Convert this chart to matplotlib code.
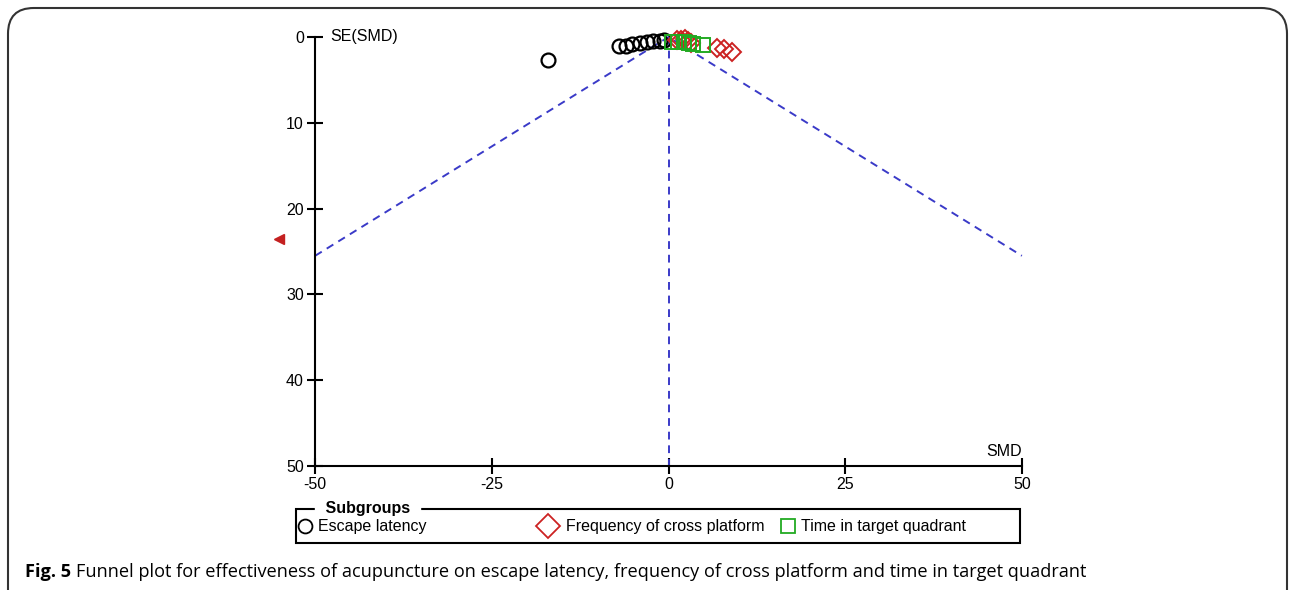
import matplotlib.pyplot as plt
from matplotlib.patches import FancyBboxPatch, Rectangle
from matplotlib.lines import Line2D

plt.rcParams['font.family'] = ['Liberation Sans', 'DejaVu Sans']
plt.rcParams['axes.unicode_minus'] = False

# Escape latency
smd_escape = [-17.0, -7.0, -6.0, -5.1, -4.0, -3.0, -2.2, -1.2, -0.6]
se_escape = [2.7, 1.0, 1.1, 0.8, 0.7, 0.6, 0.5, 0.5, 0.4]
# Frequency of cross platform
smd_cross = [1.2, 1.8, 2.3, 2.8, 3.2, 6.9, 7.9, 9.0]
se_cross = [0.3, 0.4, 0.2, 0.5, 0.7, 1.3, 1.4, 1.75]
# Time in target quadrant
smd_time = [0.5, 1.4, 2.2, 2.9, 3.5, 4.9]
se_time = [0.6, 0.6, 0.6, 0.7, 0.8, 0.9]
# point outside the SMD range (shown as arrow at the left)
se_offscale = [23.6]

overall_smd = 0.0
se_max = 25.5

fig = plt.figure(figsize=(12.9, 5.9), dpi=100)
ax = fig.add_axes([315 / 1290, 1 - 466 / 590, 707 / 1290, 429 / 590])

dash_col = '#3a3ac8'
ax.plot([overall_smd - 1.96 * se_max, overall_smd, overall_smd + 1.96 * se_max],
        [se_max, 0, se_max], color=dash_col, ls=(0, (4, 3)), lw=1.4, clip_on=False)
ax.plot([overall_smd, overall_smd], [0, 50], color=dash_col, ls=(0, (4, 3)), lw=1.4)

ax.plot(smd_escape, se_escape, 'o', mfc='none', mec='black', ms=10, mew=1.6, clip_on=False)
ax.plot(smd_cross, se_cross, 'D', mfc='none', mec='#cc2222', ms=9.5, mew=1.4, clip_on=False)
ax.plot(smd_time, se_time, 's', mfc='none', mec='#22aa22', ms=9.5, mew=1.4, clip_on=False)
ax.plot([-55.1] * len(se_offscale), se_offscale, '<', color='#c42020', ms=7, clip_on=False)

ax.set_xlim(-50, 50)
ax.set_ylim(50, 0)
ax.set_xticks([-50, -25, 0, 25, 50])
ax.set_yticks([0, 10, 20, 30, 40, 50])
for s in ['top', 'right']:
    ax.spines[s].set_visible(False)
ax.spines['left'].set_linewidth(1.5)
ax.spines['bottom'].set_linewidth(1.5)
ax.tick_params(direction='inout', length=12, width=1.5, labelsize=11.5, pad=2)
ax.patch.set_alpha(0)

ax.text(-47.8, 0, 'SE(SMD)', fontsize=11.5, va='center', ha='left')
ax.text(50, 48.3, 'SMD', fontsize=11.5, va='center', ha='right')

# legend box
W, H = 1290, 590
fig.patches.append(Rectangle((296 / W, 1 - 543 / H), 724 / W, 34 / H,
                             transform=fig.transFigure, fill=False, lw=1.5, ec='black'))
fig.text(321 / W, 1 - 509 / H, ' Subgroups ', fontsize=11.5, fontweight='bold',
         va='center', ha='left', backgroundcolor='white')
leg = [('o', 'black', 'Escape latency', 305, 318, 10),
       ('D', '#cc2222', 'Frequency of cross platform', 548, 566, 12),
       ('s', '#22aa22', 'Time in target quadrant', 788, 801, 10)]
for m, c, lab, px, tx, ms in leg:
    fig.lines.append(Line2D([px / W], [1 - 526 / H], marker=m, mfc='none', mec=c,
                            ms=ms, mew=1.3, transform=fig.transFigure))
    fig.text(tx / W, 1 - 526 / H, lab, fontsize=11.5, va='center', ha='left')

# caption
cap_y = 1 - 572 / H
t1 = fig.text(25 / W, cap_y, 'Fig. 5', fontsize=13.1, fontweight='bold',
              family='Open Sans', va='center', ha='left')
fig.canvas.draw()
bb = t1.get_window_extent()
fig.text((bb.x1 + 5) / W, cap_y, 'Funnel plot for effectiveness of acupuncture on escape latency, '
         'frequency of cross platform and time in target quadrant',
         fontsize=13.1, family='Open Sans', va='center', ha='left')

# outer frame
fig.patches.append(FancyBboxPatch((8 / W, -0.05), (1287 - 8) / W, 1 - 8 / H + 0.05,
                                  boxstyle='round,pad=0,rounding_size=0.02',
                                  transform=fig.transFigure, fill=False, lw=1.5,
                                  ec='#333333', mutation_aspect=W / H))

fig.savefig('out.png', dpi=100)
